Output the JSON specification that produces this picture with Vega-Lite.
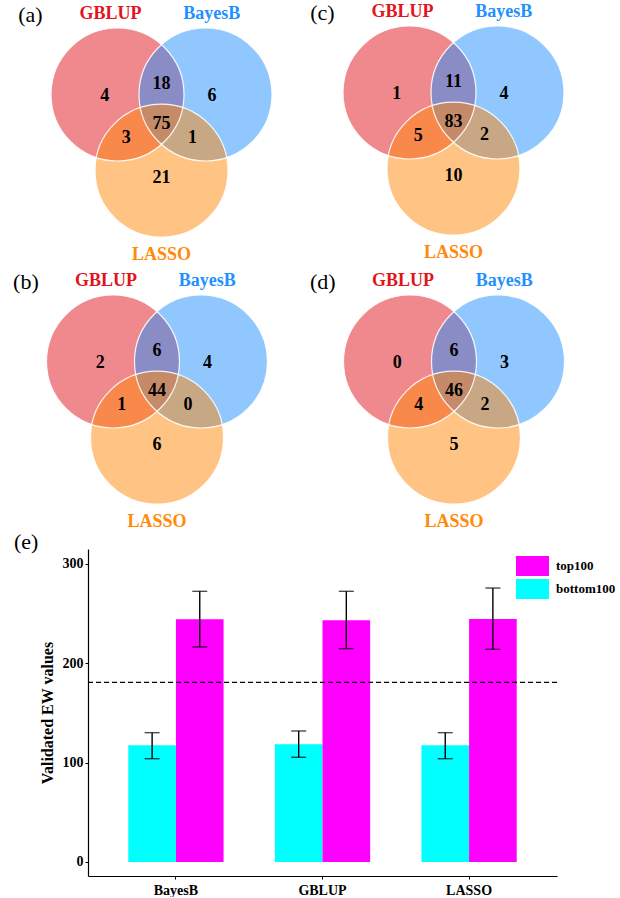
{
  "$schema": "https://vega.github.io/schema/vega-lite/v6.json",
  "padding": 0,
  "spacing": 0,
  "background": "white",
  "config": {"view": {"stroke": null}, "font": "Liberation Serif", "concat": {"spacing": 0}},
  "resolve": {"scale": {"color": "independent"}},
  "datasets": {
    "sets": [
      {"set": "GBLUP", "cx": -0.5, "cy": 0.2887, "lx": -0.58, "ly": 1.2},
      {"set": "BayesB", "cx": 0.5, "cy": 0.2887, "lx": 0.57, "ly": 1.2},
      {"set": "LASSO", "cx": 0, "cy": -0.5774, "lx": 0, "ly": -1.53}
    ],
    "regions": [
      {"region": "GBLUP only", "rx": -0.645, "ry": 0.27},
      {"region": "GBLUP&BayesB", "rx": 0, "ry": 0.41},
      {"region": "BayesB only", "rx": 0.575, "ry": 0.27},
      {"region": "all", "rx": 0, "ry": -0.045},
      {"region": "GBLUP&LASSO", "rx": -0.4, "ry": -0.21},
      {"region": "BayesB&LASSO", "rx": 0.352, "ry": -0.2},
      {"region": "LASSO only", "rx": 0, "ry": -0.66},
      {"region": "tag", "rx": -1.49, "ry": 1.19}
    ],
    "counts": [
      {"panel": "a", "region": "tag", "label": "(a)"},
      {"panel": "a", "region": "GBLUP only", "label": "4"},
      {"panel": "a", "region": "GBLUP&BayesB", "label": "18"},
      {"panel": "a", "region": "BayesB only", "label": "6"},
      {"panel": "a", "region": "all", "label": "75"},
      {"panel": "a", "region": "GBLUP&LASSO", "label": "3"},
      {"panel": "a", "region": "BayesB&LASSO", "label": "1"},
      {"panel": "a", "region": "LASSO only", "label": "21"},
      {"panel": "b", "region": "tag", "label": "(b)"},
      {"panel": "b", "region": "GBLUP only", "label": "2"},
      {"panel": "b", "region": "GBLUP&BayesB", "label": "6"},
      {"panel": "b", "region": "BayesB only", "label": "4"},
      {"panel": "b", "region": "all", "label": "44"},
      {"panel": "b", "region": "GBLUP&LASSO", "label": "1"},
      {"panel": "b", "region": "BayesB&LASSO", "label": "0"},
      {"panel": "b", "region": "LASSO only", "label": "6"},
      {"panel": "c", "region": "tag", "label": "(c)"},
      {"panel": "c", "region": "GBLUP only", "label": "1"},
      {"panel": "c", "region": "GBLUP&BayesB", "label": "11"},
      {"panel": "c", "region": "BayesB only", "label": "4"},
      {"panel": "c", "region": "all", "label": "83"},
      {"panel": "c", "region": "GBLUP&LASSO", "label": "5"},
      {"panel": "c", "region": "BayesB&LASSO", "label": "2"},
      {"panel": "c", "region": "LASSO only", "label": "10"},
      {"panel": "d", "region": "tag", "label": "(d)"},
      {"panel": "d", "region": "GBLUP only", "label": "0"},
      {"panel": "d", "region": "GBLUP&BayesB", "label": "6"},
      {"panel": "d", "region": "BayesB only", "label": "3"},
      {"panel": "d", "region": "all", "label": "46"},
      {"panel": "d", "region": "GBLUP&LASSO", "label": "4"},
      {"panel": "d", "region": "BayesB&LASSO", "label": "2"},
      {"panel": "d", "region": "LASSO only", "label": "5"}
    ],
    "bars": [
      {"method": "BayesB", "group": "bottom100", "mean": 117.5, "lo": 104.0, "hi": 130.2},
      {"method": "BayesB", "group": "top100", "mean": 244.3, "lo": 216.5, "hi": 272.5},
      {"method": "GBLUP", "group": "bottom100", "mean": 118.5, "lo": 105.4, "hi": 131.9},
      {"method": "GBLUP", "group": "top100", "mean": 243.3, "lo": 214.8, "hi": 272.5},
      {"method": "LASSO", "group": "bottom100", "mean": 117.5, "lo": 104.0, "hi": 130.2},
      {"method": "LASSO", "group": "top100", "mean": 244.6, "lo": 214.1, "hi": 275.8}
    ],
    "reference": [{"ref": 180.9}]
  },
  "vconcat": [
    {
      "spacing": 0,
      "hconcat": [
        {
          "width": 310, "height": 266,
          "layer": [
            {"data": {"name": "sets"}, "mark": {"type": "point", "shape": "circle", "filled": true, "opacity": 0.5, "size": 17689},
             "encoding": {
               "x": {"field": "cx", "type": "quantitative", "scale": {"domain": [-1.8352, 1.6875], "nice": false, "zero": false}, "axis": null},
               "y": {"field": "cy", "type": "quantitative", "scale": {"domain": [-1.6602, 1.3625], "nice": false, "zero": false}, "axis": null},
               "color": {"field": "set", "type": "nominal", "scale": {"domain": ["GBLUP", "BayesB", "LASSO"], "range": ["#E2141C", "#2390FF", "#FF8A0A"]}, "legend": null}}},
            {"data": {"name": "sets"}, "mark": {"type": "point", "shape": "circle", "filled": false, "stroke": "white", "strokeWidth": 1.2, "opacity": 0.9, "size": 17689},
             "encoding": {"x": {"field": "cx", "type": "quantitative", "axis": null}, "y": {"field": "cy", "type": "quantitative", "axis": null}}},
            {"data": {"name": "sets"}, "mark": {"type": "text", "font": "Liberation Serif", "fontSize": 18, "fontWeight": "bold", "baseline": "middle"},
             "encoding": {"x": {"field": "lx", "type": "quantitative", "axis": null}, "y": {"field": "ly", "type": "quantitative", "axis": null}, "text": {"field": "set"}, "color": {"field": "set", "type": "nominal", "legend": null}}},
            {"data": {"name": "counts"}, "transform": [{"filter": "datum.panel === 'a' && datum.region !== 'tag'"}, {"lookup": "region", "from": {"data": {"name": "regions"}, "key": "region", "fields": ["rx", "ry"]}}],
             "mark": {"type": "text", "font": "Liberation Serif", "fontSize": 18, "fontWeight": "bold", "baseline": "middle", "color": "black"},
             "encoding": {"x": {"field": "rx", "type": "quantitative", "axis": null}, "y": {"field": "ry", "type": "quantitative", "axis": null}, "text": {"field": "label"}}},
            {"data": {"name": "counts"}, "transform": [{"filter": "datum.panel === 'a' && datum.region === 'tag'"}, {"lookup": "region", "from": {"data": {"name": "regions"}, "key": "region", "fields": ["rx", "ry"]}}],
             "mark": {"type": "text", "font": "Liberation Serif", "fontSize": 22, "baseline": "middle", "color": "black"},
             "encoding": {"x": {"field": "rx", "type": "quantitative", "axis": null}, "y": {"field": "ry", "type": "quantitative", "axis": null}, "text": {"field": "label"}}}
          ]
        },
        {
          "width": 310, "height": 266,
          "layer": [
            {"data": {"name": "sets"}, "mark": {"type": "point", "shape": "circle", "filled": true, "opacity": 0.5, "size": 17689},
             "encoding": {
               "x": {"field": "cx", "type": "quantitative", "scale": {"domain": [-1.6307, 1.892], "nice": false, "zero": false}, "axis": null},
               "y": {"field": "cy", "type": "quantitative", "scale": {"domain": [-1.683, 1.3398], "nice": false, "zero": false}, "axis": null},
               "color": {"field": "set", "type": "nominal", "scale": {"domain": ["GBLUP", "BayesB", "LASSO"], "range": ["#E2141C", "#2390FF", "#FF8A0A"]}, "legend": null}}},
            {"data": {"name": "sets"}, "mark": {"type": "point", "shape": "circle", "filled": false, "stroke": "white", "strokeWidth": 1.2, "opacity": 0.9, "size": 17689},
             "encoding": {"x": {"field": "cx", "type": "quantitative", "axis": null}, "y": {"field": "cy", "type": "quantitative", "axis": null}}},
            {"data": {"name": "sets"}, "mark": {"type": "text", "font": "Liberation Serif", "fontSize": 18, "fontWeight": "bold", "baseline": "middle"},
             "encoding": {"x": {"field": "lx", "type": "quantitative", "axis": null}, "y": {"field": "ly", "type": "quantitative", "axis": null}, "text": {"field": "set"}, "color": {"field": "set", "type": "nominal", "legend": null}}},
            {"data": {"name": "counts"}, "transform": [{"filter": "datum.panel === 'c' && datum.region !== 'tag'"}, {"lookup": "region", "from": {"data": {"name": "regions"}, "key": "region", "fields": ["rx", "ry"]}}],
             "mark": {"type": "text", "font": "Liberation Serif", "fontSize": 18, "fontWeight": "bold", "baseline": "middle", "color": "black"},
             "encoding": {"x": {"field": "rx", "type": "quantitative", "axis": null}, "y": {"field": "ry", "type": "quantitative", "axis": null}, "text": {"field": "label"}}},
            {"data": {"name": "counts"}, "transform": [{"filter": "datum.panel === 'c' && datum.region === 'tag'"}, {"lookup": "region", "from": {"data": {"name": "regions"}, "key": "region", "fields": ["rx", "ry"]}}],
             "mark": {"type": "text", "font": "Liberation Serif", "fontSize": 22, "baseline": "middle", "color": "black"},
             "encoding": {"x": {"field": "rx", "type": "quantitative", "axis": null}, "y": {"field": "ry", "type": "quantitative", "axis": null}, "text": {"field": "label"}}}
          ]
        }
      ]
    },
    {
      "spacing": 0,
      "hconcat": [
        {
          "width": 310, "height": 265,
          "layer": [
            {"data": {"name": "sets"}, "mark": {"type": "point", "shape": "circle", "filled": true, "opacity": 0.5, "size": 17689},
             "encoding": {
               "x": {"field": "cx", "type": "quantitative", "scale": {"domain": [-1.7841, 1.7386], "nice": false, "zero": false}, "axis": null},
               "y": {"field": "cy", "type": "quantitative", "scale": {"domain": [-1.6375, 1.3739], "nice": false, "zero": false}, "axis": null},
               "color": {"field": "set", "type": "nominal", "scale": {"domain": ["GBLUP", "BayesB", "LASSO"], "range": ["#E2141C", "#2390FF", "#FF8A0A"]}, "legend": null}}},
            {"data": {"name": "sets"}, "mark": {"type": "point", "shape": "circle", "filled": false, "stroke": "white", "strokeWidth": 1.2, "opacity": 0.9, "size": 17689},
             "encoding": {"x": {"field": "cx", "type": "quantitative", "axis": null}, "y": {"field": "cy", "type": "quantitative", "axis": null}}},
            {"data": {"name": "sets"}, "mark": {"type": "text", "font": "Liberation Serif", "fontSize": 18, "fontWeight": "bold", "baseline": "middle"},
             "encoding": {"x": {"field": "lx", "type": "quantitative", "axis": null}, "y": {"field": "ly", "type": "quantitative", "axis": null}, "text": {"field": "set"}, "color": {"field": "set", "type": "nominal", "legend": null}}},
            {"data": {"name": "counts"}, "transform": [{"filter": "datum.panel === 'b' && datum.region !== 'tag'"}, {"lookup": "region", "from": {"data": {"name": "regions"}, "key": "region", "fields": ["rx", "ry"]}}],
             "mark": {"type": "text", "font": "Liberation Serif", "fontSize": 18, "fontWeight": "bold", "baseline": "middle", "color": "black"},
             "encoding": {"x": {"field": "rx", "type": "quantitative", "axis": null}, "y": {"field": "ry", "type": "quantitative", "axis": null}, "text": {"field": "label"}}},
            {"data": {"name": "counts"}, "transform": [{"filter": "datum.panel === 'b' && datum.region === 'tag'"}, {"lookup": "region", "from": {"data": {"name": "regions"}, "key": "region", "fields": ["rx", "ry"]}}],
             "mark": {"type": "text", "font": "Liberation Serif", "fontSize": 22, "baseline": "middle", "color": "black"},
             "encoding": {"x": {"field": "rx", "type": "quantitative", "axis": null}, "y": {"field": "ry", "type": "quantitative", "axis": null}, "text": {"field": "label"}}}
          ]
        },
        {
          "width": 310, "height": 265,
          "layer": [
            {"data": {"name": "sets"}, "mark": {"type": "point", "shape": "circle", "filled": true, "opacity": 0.5, "size": 17689},
             "encoding": {
               "x": {"field": "cx", "type": "quantitative", "scale": {"domain": [-1.6136, 1.9091], "nice": false, "zero": false}, "axis": null},
               "y": {"field": "cy", "type": "quantitative", "scale": {"domain": [-1.6375, 1.3739], "nice": false, "zero": false}, "axis": null},
               "color": {"field": "set", "type": "nominal", "scale": {"domain": ["GBLUP", "BayesB", "LASSO"], "range": ["#E2141C", "#2390FF", "#FF8A0A"]}, "legend": null}}},
            {"data": {"name": "sets"}, "mark": {"type": "point", "shape": "circle", "filled": false, "stroke": "white", "strokeWidth": 1.2, "opacity": 0.9, "size": 17689},
             "encoding": {"x": {"field": "cx", "type": "quantitative", "axis": null}, "y": {"field": "cy", "type": "quantitative", "axis": null}}},
            {"data": {"name": "sets"}, "mark": {"type": "text", "font": "Liberation Serif", "fontSize": 18, "fontWeight": "bold", "baseline": "middle"},
             "encoding": {"x": {"field": "lx", "type": "quantitative", "axis": null}, "y": {"field": "ly", "type": "quantitative", "axis": null}, "text": {"field": "set"}, "color": {"field": "set", "type": "nominal", "legend": null}}},
            {"data": {"name": "counts"}, "transform": [{"filter": "datum.panel === 'd' && datum.region !== 'tag'"}, {"lookup": "region", "from": {"data": {"name": "regions"}, "key": "region", "fields": ["rx", "ry"]}}],
             "mark": {"type": "text", "font": "Liberation Serif", "fontSize": 18, "fontWeight": "bold", "baseline": "middle", "color": "black"},
             "encoding": {"x": {"field": "rx", "type": "quantitative", "axis": null}, "y": {"field": "ry", "type": "quantitative", "axis": null}, "text": {"field": "label"}}},
            {"data": {"name": "counts"}, "transform": [{"filter": "datum.panel === 'd' && datum.region === 'tag'"}, {"lookup": "region", "from": {"data": {"name": "regions"}, "key": "region", "fields": ["rx", "ry"]}}],
             "mark": {"type": "text", "font": "Liberation Serif", "fontSize": 22, "baseline": "middle", "color": "black"},
             "encoding": {"x": {"field": "rx", "type": "quantitative", "axis": null}, "y": {"field": "ry", "type": "quantitative", "axis": null}, "text": {"field": "label"}}}
          ]
        }
      ]
    },
    {
      "spacing": 0,
      "hconcat": [
        {"width": 14, "height": 10, "data": {"values": [{"k": 1}]}, "mark": {"type": "point", "opacity": 0}, "encoding": {}},
        {
          "width": 469, "height": 327,
          "title": {"text": "(e)", "anchor": "start", "frame": "bounds", "orient": "top", "offset": -22, "fontSize": 22, "font": "Liberation Serif", "fontWeight": "normal", "color": "black", "baseline": "alphabetic", "dx": -25},
          "data": {"name": "bars"},
          "layer": [
            {"mark": {"type": "bar"},
             "encoding": {
               "x": {"field": "method", "type": "nominal", "sort": ["BayesB", "GBLUP", "LASSO"], "scale": {"paddingInner": 0.35, "paddingOuter": 0.275},
                     "axis": {"title": null, "labelAngle": 0, "labelFont": "Liberation Serif", "labelFontSize": 14, "labelFontWeight": "bold", "labelColor": "black", "tickSize": 3, "tickColor": "black", "domainColor": "black", "domainWidth": 1.2, "labelPadding": 4}},
               "xOffset": {"field": "group", "type": "nominal", "scale": {"domain": ["bottom100", "top100"], "paddingInner": 0, "paddingOuter": 0}},
               "y": {"field": "mean", "type": "quantitative", "scale": {"domain": [-14.1, 315.1], "nice": false, "zero": false},
                     "axis": {"values": [0, 100, 200, 300], "title": "Validated EW values", "titleFont": "Liberation Serif", "titleFontSize": 16, "titleFontWeight": "bold", "titleColor": "black", "titlePadding": 7, "labelFont": "Liberation Serif", "labelFontSize": 14, "labelFontWeight": "bold", "labelColor": "black", "tickSize": 3, "tickColor": "black", "domainColor": "black", "domainWidth": 1.2, "grid": false, "labelPadding": 2}},
               "y2": {"datum": 0},
               "color": {"field": "group", "type": "nominal", "scale": {"domain": ["top100", "bottom100"], "range": ["#FF00FF", "#00FFFF"]},
                         "legend": {"title": null, "orient": "none", "legendX": 522.5, "legendY": 7, "symbolType": "M-1.65,-1H1.65V1H-1.65Z", "symbolSize": 400, "symbolStrokeWidth": 0, "symbolOpacity": 1, "labelFont": "Liberation Serif", "labelFontSize": 13, "labelFontWeight": "bold", "labelColor": "black", "labelOffset": 13.5, "rowPadding": 3, "padding": 0}}}},
            {"mark": {"type": "rule", "color": "black", "strokeWidth": 1.4},
             "encoding": {"x": {"field": "method", "type": "nominal", "sort": ["BayesB", "GBLUP", "LASSO"]}, "xOffset": {"field": "group", "type": "nominal"}, "y": {"field": "lo", "type": "quantitative"}, "y2": {"field": "hi"}}},
            {"mark": {"type": "tick", "color": "black", "thickness": 1.4, "size": 15, "orient": "horizontal"},
             "encoding": {"x": {"field": "method", "type": "nominal", "sort": ["BayesB", "GBLUP", "LASSO"]}, "xOffset": {"field": "group", "type": "nominal"}, "y": {"field": "lo", "type": "quantitative"}}},
            {"mark": {"type": "tick", "color": "black", "thickness": 1.4, "size": 15, "orient": "horizontal"},
             "encoding": {"x": {"field": "method", "type": "nominal", "sort": ["BayesB", "GBLUP", "LASSO"]}, "xOffset": {"field": "group", "type": "nominal"}, "y": {"field": "hi", "type": "quantitative"}}},
            {"data": {"name": "reference"}, "mark": {"type": "rule", "color": "black", "strokeWidth": 1.3, "strokeDash": [5, 3]},
             "encoding": {"y": {"field": "ref", "type": "quantitative"}}}
          ]
        }
      ]
    }
  ]
}
